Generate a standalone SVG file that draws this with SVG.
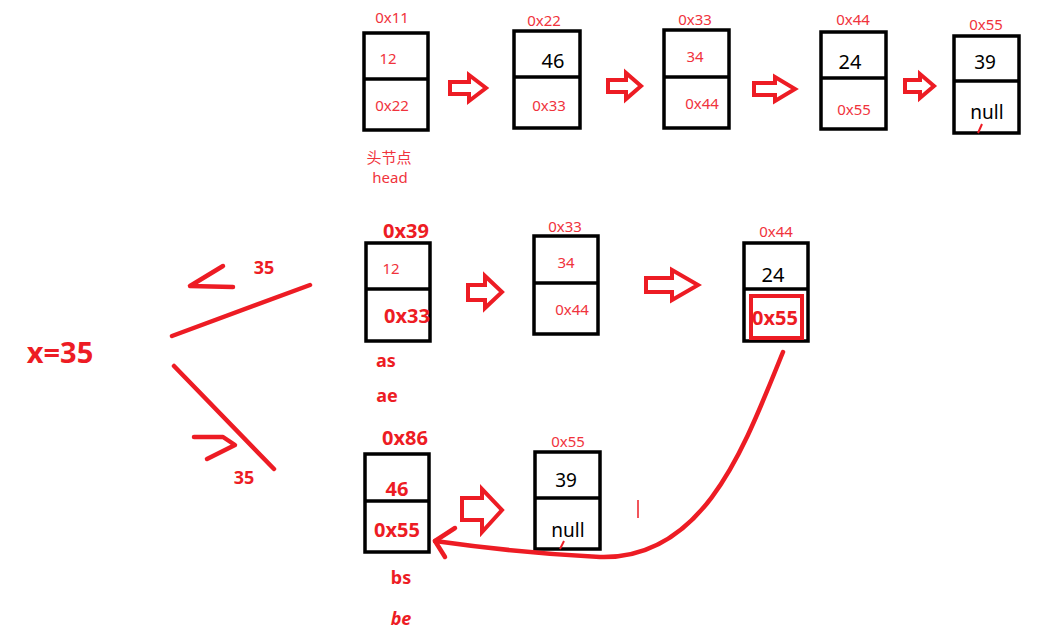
<svg xmlns="http://www.w3.org/2000/svg" width="1038" height="628" viewBox="0 0 1038 628">
<style>
.box{fill:#fff;stroke:#000;stroke-width:3.5}
.div{stroke:#000;stroke-width:3.5}
.t{font-family:"Noto Sans","Noto Sans CJK SC",sans-serif;text-anchor:middle}
.r{fill:#f0333c}
.rb{fill:#ed1c24;font-weight:bold}
.k{fill:#000}
.arr{fill:none;stroke:#ed1c24;stroke-width:4;stroke-linejoin:miter}
.ln{fill:none;stroke:#ed1c24;stroke-width:4.5;stroke-linecap:round;stroke-linejoin:round}
</style>
<rect width="1038" height="628" fill="#fff"/>

<g id="n11">
<rect class="box" x="364" y="33" width="64" height="97"/>
<line class="div" x1="364" y1="79" x2="428" y2="79"/>
<text class="t r" x="392" y="23" font-size="15">0x11</text>
<text class="t r" x="388" y="64" font-size="15">12</text>
<text class="t r" x="392" y="111" font-size="15">0x22</text>
<text class="t r" x="389" y="163" font-size="15">头节点</text>
<text class="t r" x="390" y="183" font-size="15">head</text>
</g>
<g id="n22">
<rect class="box" x="514" y="31" width="66" height="97"/>
<line class="div" x1="514" y1="77" x2="580" y2="77"/>
<text class="t r" x="544" y="26" font-size="15">0x22</text>
<text class="t k" x="553" y="68" font-size="20">46</text>
<text class="t r" x="549" y="111" font-size="15">0x33</text>
</g>
<g id="n33">
<rect class="box" x="664" y="30" width="65" height="98"/>
<line class="div" x1="664" y1="77" x2="729" y2="77"/>
<text class="t r" x="695" y="25" font-size="15">0x33</text>
<text class="t r" x="695" y="62" font-size="15">34</text>
<text class="t r" x="702" y="109" font-size="15">0x44</text>
</g>
<g id="n44">
<rect class="box" x="821" y="32" width="65" height="97"/>
<line class="div" x1="821" y1="78" x2="886" y2="78"/>
<text class="t r" x="853" y="25" font-size="15">0x44</text>
<text class="t k" x="850" y="69" font-size="20">24</text>
<text class="t r" x="854" y="115" font-size="15">0x55</text>
</g>
<g id="n55">
<rect class="box" x="954" y="36" width="65" height="97"/>
<line class="div" x1="954" y1="81" x2="1019" y2="81"/>
<text class="t r" x="986" y="30" font-size="15">0x55</text>
<text class="t k" x="985" y="69" font-size="19">39</text>
<text class="t k" x="987" y="119" font-size="19">null</text>
<line x1="978" y1="133" x2="982" y2="124" stroke="#ed1c24" stroke-width="2"/>
</g>

<g id="m39">
<rect class="box" x="366" y="243" width="64" height="98"/>
<line class="div" x1="366" y1="289" x2="430" y2="289"/>
<text class="t rb" x="406" y="238" font-size="20">0x39</text>
<text class="t r" x="391" y="274" font-size="15">12</text>
<text class="t rb" x="407" y="323" font-size="20">0x33</text>
<text class="t rb" x="386" y="367" font-size="18">as</text>
<text class="t rb" x="387" y="402" font-size="18">ae</text>
</g>
<g id="m33">
<rect class="box" x="534" y="236" width="64" height="98"/>
<line class="div" x1="534" y1="283" x2="598" y2="283"/>
<text class="t r" x="565" y="232" font-size="15">0x33</text>
<text class="t r" x="566" y="268" font-size="15">34</text>
<text class="t r" x="572" y="315" font-size="15">0x44</text>
</g>
<g id="m44">
<rect class="box" x="744" y="243" width="64" height="98"/>
<line class="div" x1="744" y1="289" x2="808" y2="289"/>
<text class="t r" x="776" y="237" font-size="15">0x44</text>
<text class="t k" x="773" y="282" font-size="20">24</text>
<rect x="751" y="296" width="51" height="42" fill="none" stroke="#ed1c24" stroke-width="4"/>
<text class="t rb" x="775" y="325" font-size="20">0x55</text>
</g>

<g id="b86">
<rect class="box" x="365" y="454" width="64" height="98"/>
<line class="div" x1="365" y1="501" x2="429" y2="501"/>
<text class="t rb" x="405" y="445" font-size="20">0x86</text>
<text class="t rb" x="397" y="496" font-size="20">46</text>
<text class="t rb" x="397" y="537" font-size="20">0x55</text>
<text class="t rb" x="401" y="584" font-size="18">bs</text>
<text class="t rb" x="401" y="625" font-size="18" font-style="italic">be</text>
</g>
<g id="b55">
<rect class="box" x="535" y="452" width="65" height="97"/>
<line class="div" x1="535" y1="498" x2="600" y2="498"/>
<text class="t r" x="568" y="447" font-size="15">0x55</text>
<text class="t k" x="566" y="487" font-size="19">39</text>
<text class="t k" x="568" y="537" font-size="19">null</text>
<line x1="560" y1="549" x2="564" y2="541" stroke="#ed1c24" stroke-width="2"/>
</g>

<g id="xlabel">
<text class="t rb" x="60" y="363" font-size="29">x=35</text>
<text class="t rb" x="264" y="274" font-size="18">35</text>
<text class="t rb" x="244" y="484" font-size="18">35</text>
</g>

<g id="connectors">
<path class="arr" d="M450,82 L469,82 L469,75 L486,88 L469,101 L469,94 L450,94 Z"/>
<path class="arr" d="M608,80 L626,80 L626,73 L641,86 L626,99 L626,92 L608,92 Z"/>
<path class="arr" d="M754,83 L775,83 L775,77 L795,89 L775,101 L775,95 L754,95 Z"/>
<path class="arr" d="M905,80 L920,80 L920,74 L934,86 L920,98 L920,92 L905,92 Z"/>
<path class="arr" d="M468,285 L485,285 L485,276 L502,292 L485,308 L485,300 L468,300 Z"/>
<path class="arr" d="M646,278 L672,278 L672,270 L698,285 L672,300 L672,292 L646,292 Z"/>
<path class="arr" d="M462,498 L482,498 L482,489 L502,510 L482,532 L482,520 L462,520 Z"/>
<path class="ln" d="M783,352 C745,445 705,560 600,557 Q520,553 435,541"/>
<path class="ln" d="M455,528 L435,541 L445,557"/>
<line x1="638" y1="500" x2="638" y2="518" stroke="#ed1c24" stroke-width="1.5"/>
<line class="ln" x1="172" y1="336" x2="310" y2="285"/>
<path class="ln" d="M223,266 L190,286 L233,287"/>
<line class="ln" x1="174" y1="366" x2="274" y2="469"/>
<path class="ln" d="M194,437 L223,437 L235,445 L227,449 L207,459"/>
</g>
</svg>
